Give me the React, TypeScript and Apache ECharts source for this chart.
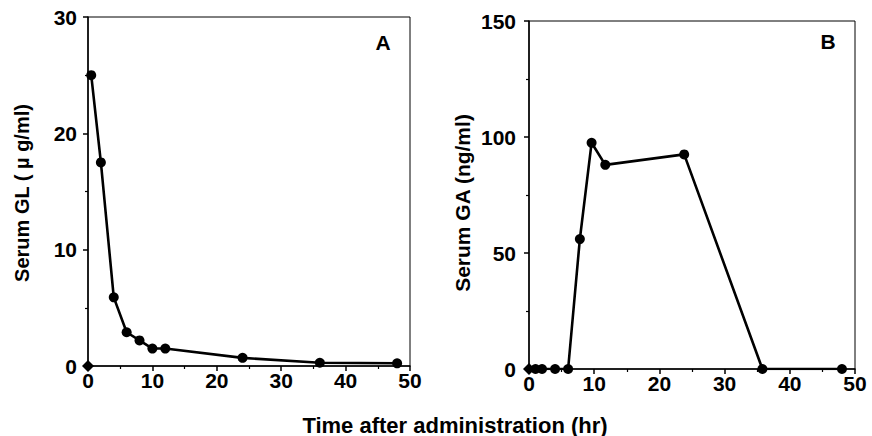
import React, { useEffect, useRef } from "react";
import * as echarts from "echarts";

// Panel A: serum GL (µg/ml)
const timeA = [0.5, 2, 4, 6, 8, 10, 12, 24, 36, 48];
const serumGL = [25, 17.5, 5.9, 2.9, 2.2, 1.5, 1.5, 0.7, 0.28, 0.23];
// Panel B: serum GA (ng/ml)
const timeB = [0, 1, 2, 4, 6, 7.8, 9.6, 11.7, 23.8, 35.8, 48];
const serumGA = [0, 0, 0, 0, 0, 56, 97.5, 88, 92.5, 0, 0];
// pre-dose baseline point (diamond at origin)
const baseTime = [0];
const baseValue = [0];

const xTitle = "Time after administration (hr)";
const yTitleA = "Serum GL ( \u00b5 g/ml)";
const yTitleB = "Serum GA (ng/ml)";
const panelLabels = ["A", "B"];

const FONT = "'Liberation Sans', Arial, Helvetica, sans-serif";

export default function App() {
  const ref = useRef<HTMLDivElement>(null);
  useEffect(() => {
    if (!ref.current) return;
    const chart = echarts.init(ref.current, null, { renderer: "svg" });
    const axisText = { color: "#000", fontFamily: FONT, fontWeight: "bold" as const, fontSize: 21 };
    const xAxisCommon = (gridIndex: number) => ({
      type: "value" as const,
      gridIndex,
      min: 0,
      max: 50,
      interval: 10,
      splitLine: { show: false },
      axisLine: { show: true, onZero: false, lineStyle: { color: "#000", width: 1.5 } },
      axisTick: { show: true, inside: false, length: 5, lineStyle: { color: "#000", width: 1.5 } },
      minorTick: { show: true, splitNumber: 2, length: 3, lineStyle: { color: "#000", width: 1.2 } },
      axisLabel: { ...axisText, margin: 4 },
    });
    const yAxisCommon = (gridIndex: number, max: number, interval: number, margin: number) => ({
      type: "value" as const,
      gridIndex,
      min: 0,
      max,
      interval,
      splitLine: { show: false },
      axisLine: { show: true, onZero: false, lineStyle: { color: "#000", width: 1.5 } },
      axisTick: { show: true, inside: false, length: 5, lineStyle: { color: "#000", width: 1.5 } },
      minorTick: { show: true, splitNumber: 2, length: 3, lineStyle: { color: "#000", width: 1.2 } },
      axisLabel: { ...axisText, margin },
    });
    const titleStyle = (size: number) => ({
      fill: "#000",
      font: `bold ${size}px ${FONT}`,
      textAlign: "center",
      textVerticalAlign: "middle",
    });
    chart.setOption({
      animation: false,
      backgroundColor: "#fff",
      grid: [
        { left: 88, right: 462, top: 17, bottom: 70, show: true, borderColor: "#000", borderWidth: 1, backgroundColor: "transparent" },
        { left: 529, right: 17, top: 21, bottom: 67, show: true, borderColor: "#000", borderWidth: 1, backgroundColor: "transparent" },
      ],
      xAxis: [xAxisCommon(0), xAxisCommon(1)],
      yAxis: [yAxisCommon(0, 30, 10, 11), yAxisCommon(1, 150, 50, 13)],
      series: [
        {
          type: "line",
          xAxisIndex: 0,
          yAxisIndex: 0,
          data: timeA.map((t, i) => [t, serumGL[i]]),
          symbol: "circle",
          symbolSize: 10,
          lineStyle: { color: "#000", width: 2.6 },
          itemStyle: { color: "#000" },
        },
        {
          type: "scatter",
          xAxisIndex: 0,
          yAxisIndex: 0,
          data: baseTime.map((t, i) => [t, baseValue[i]]),
          symbol: "diamond",
          symbolSize: 12,
          clip: false,
          z: 10,
          itemStyle: { color: "#000", opacity: 1 },
        },
        {
          type: "line",
          xAxisIndex: 1,
          yAxisIndex: 1,
          data: timeB.map((t, i) =>
            i === 0 ? { value: [t, serumGA[i]], symbol: "diamond", symbolSize: 12 } : [t, serumGA[i]]
          ),
          symbol: "circle",
          symbolSize: 10,
          lineStyle: { color: "#000", width: 2.6 },
          itemStyle: { color: "#000" },
        },
      ],
      graphic: [
        { type: "text", x: 455, y: 425, style: { ...titleStyle(22), text: xTitle } },
        { type: "text", x: 22, y: 193, rotation: Math.PI / 2, style: { ...titleStyle(20), text: yTitleA } },
        { type: "text", x: 462, y: 203, rotation: Math.PI / 2, style: { ...titleStyle(21), text: yTitleB } },
        { type: "text", x: 383, y: 42, style: { ...titleStyle(21), text: panelLabels[0] } },
        { type: "text", x: 828, y: 41, style: { ...titleStyle(21), text: panelLabels[1] } },
      ],
    });
    return () => chart.dispose();
  }, []);
  return <div ref={ref} style={{ width: 872, height: 436, position: "absolute", left: 0, top: 0 }} />;
}
